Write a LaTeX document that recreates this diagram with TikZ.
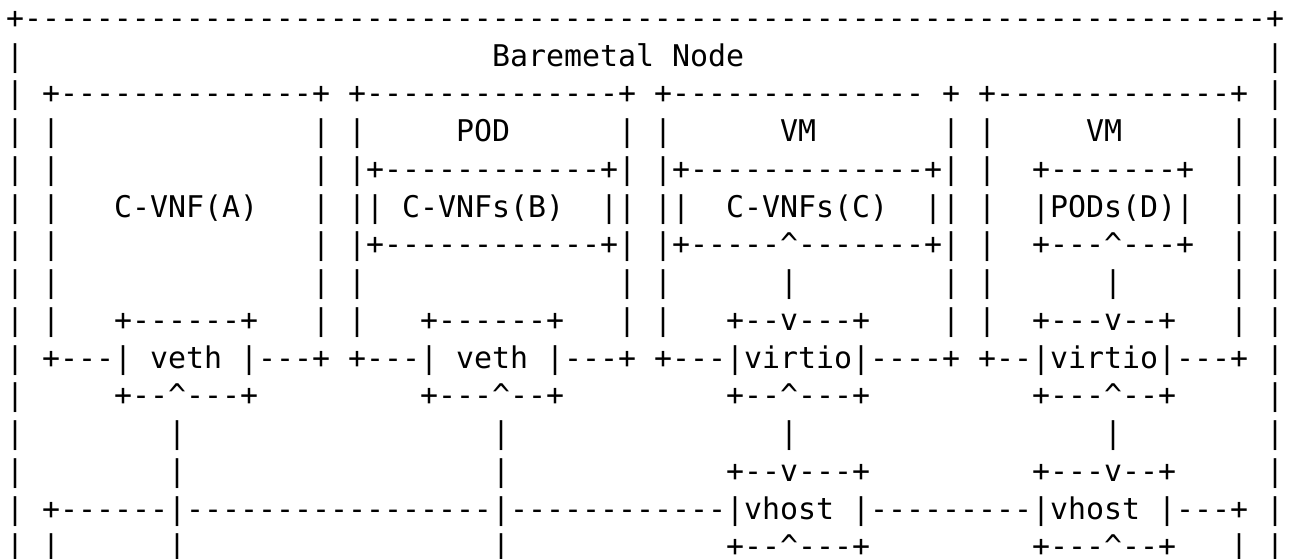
\documentclass[tikz,border=0pt]{standalone}
\usepackage{fontspec}
\setmonofont{DejaVu Sans Mono}
\ExplSyntaxOn
\cs_new:Npn \asciirep #1#2 { \prg_replicate:nn {#1} {#2} }
\ExplSyntaxOff
\newcommand\asciifont{\ttfamily\fontsize{29.9pt}{36pt}\selectfont}
\tikzset{txt/.style={anchor=base west, inner sep=0pt, outer sep=0pt, font=\asciifont, text=black}}
% segment: line, column, text
\newcommand\seg[3]{\node[txt] (s#1-#2) at ({6+18*#2},{530.5-37.75*(#1-1)}) {#3};}
% run of dashes: line, column, count
\newcommand\drun[3]{\seg{#1}{#2}{\asciirep{#3}{-}}}
\newcommand\up{\textasciicircum}
\begin{document}
\begin{tikzpicture}[x=1pt,y=1pt]
\fill[white] (0,0) rectangle (1290,559);
\useasboundingbox (0,0) rectangle (1290,559);
% line 1
\seg{1}{0}{+}\drun{1}{1}{69}\seg{1}{70}{+}
% line 2
\seg{2}{0}{|}\seg{2}{27}{Baremetal Node}\seg{2}{70}{|}
% line 3
\seg{3}{0}{|}\seg{3}{2}{+}\drun{3}{3}{14}\seg{3}{17}{+}
\seg{3}{19}{+}\drun{3}{20}{14}\seg{3}{34}{+}
\seg{3}{36}{+}\drun{3}{37}{14}\seg{3}{52}{+}
\seg{3}{54}{+}\drun{3}{55}{13}\seg{3}{68}{+}\seg{3}{70}{|}
% line 4
\seg{4}{0}{|}\seg{4}{2}{|}\seg{4}{17}{|}\seg{4}{19}{|}\seg{4}{25}{POD}
\seg{4}{34}{|}\seg{4}{36}{|}\seg{4}{43}{VM}\seg{4}{52}{|}\seg{4}{54}{|}
\seg{4}{60}{VM}\seg{4}{68}{|}\seg{4}{70}{|}
% line 5
\seg{5}{0}{|}\seg{5}{2}{|}\seg{5}{17}{|}\seg{5}{19}{|}
\seg{5}{20}{+}\drun{5}{21}{12}\seg{5}{33}{+}\seg{5}{34}{|}
\seg{5}{36}{|}\seg{5}{37}{+}\drun{5}{38}{13}\seg{5}{51}{+}\seg{5}{52}{|}
\seg{5}{54}{|}\seg{5}{57}{+}\drun{5}{58}{7}\seg{5}{65}{+}
\seg{5}{68}{|}\seg{5}{70}{|}
% line 6
\seg{6}{0}{|}\seg{6}{2}{|}\seg{6}{6}{C-VNF(A)}\seg{6}{17}{|}
\seg{6}{19}{|}\seg{6}{20}{|}\seg{6}{22}{C-VNFs(B)}\seg{6}{33}{|}\seg{6}{34}{|}
\seg{6}{36}{|}\seg{6}{37}{|}\seg{6}{40}{C-VNFs(C)}\seg{6}{51}{|}\seg{6}{52}{|}
\seg{6}{54}{|}\seg{6}{57}{|}\seg{6}{58}{PODs(D)}\seg{6}{65}{|}
\seg{6}{68}{|}\seg{6}{70}{|}
% line 7
\seg{7}{0}{|}\seg{7}{2}{|}\seg{7}{17}{|}\seg{7}{19}{|}
\seg{7}{20}{+}\drun{7}{21}{12}\seg{7}{33}{+}\seg{7}{34}{|}
\seg{7}{36}{|}\seg{7}{37}{+}\drun{7}{38}{5}\seg{7}{43}{\up}\drun{7}{44}{7}\seg{7}{51}{+}\seg{7}{52}{|}
\seg{7}{54}{|}\seg{7}{57}{+}\drun{7}{58}{3}\seg{7}{61}{\up}\drun{7}{62}{3}\seg{7}{65}{+}
\seg{7}{68}{|}\seg{7}{70}{|}
% line 8
\seg{8}{0}{|}\seg{8}{2}{|}\seg{8}{17}{|}\seg{8}{19}{|}\seg{8}{34}{|}\seg{8}{36}{|}
\seg{8}{43}{|}\seg{8}{52}{|}\seg{8}{54}{|}\seg{8}{61}{|}\seg{8}{68}{|}\seg{8}{70}{|}
% line 9
\seg{9}{0}{|}\seg{9}{2}{|}\seg{9}{6}{+}\drun{9}{7}{6}\seg{9}{13}{+}\seg{9}{17}{|}
\seg{9}{19}{|}\seg{9}{23}{+}\drun{9}{24}{6}\seg{9}{30}{+}\seg{9}{34}{|}
\seg{9}{36}{|}\seg{9}{40}{+}\drun{9}{41}{2}\seg{9}{43}{v}\drun{9}{44}{3}\seg{9}{47}{+}\seg{9}{52}{|}
\seg{9}{54}{|}\seg{9}{57}{+}\drun{9}{58}{3}\seg{9}{61}{v}\drun{9}{62}{2}\seg{9}{64}{+}
\seg{9}{68}{|}\seg{9}{70}{|}
% line 10
\seg{10}{0}{|}\seg{10}{2}{+}\drun{10}{3}{3}\seg{10}{6}{|}\seg{10}{8}{veth}\seg{10}{13}{|}\drun{10}{14}{3}\seg{10}{17}{+}
\seg{10}{19}{+}\drun{10}{20}{3}\seg{10}{23}{|}\seg{10}{25}{veth}\seg{10}{30}{|}\drun{10}{31}{3}\seg{10}{34}{+}
\seg{10}{36}{+}\drun{10}{37}{3}\seg{10}{40}{|}\seg{10}{41}{virtio}\seg{10}{47}{|}\drun{10}{48}{4}\seg{10}{52}{+}
\seg{10}{54}{+}\drun{10}{55}{2}\seg{10}{57}{|}\seg{10}{58}{virtio}\seg{10}{64}{|}\drun{10}{65}{3}\seg{10}{68}{+}
\seg{10}{70}{|}
% line 11
\seg{11}{0}{|}\seg{11}{6}{+}\drun{11}{7}{2}\seg{11}{9}{\up}\drun{11}{10}{3}\seg{11}{13}{+}
\seg{11}{23}{+}\drun{11}{24}{3}\seg{11}{27}{\up}\drun{11}{28}{2}\seg{11}{30}{+}
\seg{11}{40}{+}\drun{11}{41}{2}\seg{11}{43}{\up}\drun{11}{44}{3}\seg{11}{47}{+}
\seg{11}{57}{+}\drun{11}{58}{3}\seg{11}{61}{\up}\drun{11}{62}{2}\seg{11}{64}{+}
\seg{11}{70}{|}
% line 12
\seg{12}{0}{|}\seg{12}{9}{|}\seg{12}{27}{|}\seg{12}{43}{|}\seg{12}{61}{|}\seg{12}{70}{|}
% line 13
\seg{13}{0}{|}\seg{13}{9}{|}\seg{13}{27}{|}
\seg{13}{40}{+}\drun{13}{41}{2}\seg{13}{43}{v}\drun{13}{44}{3}\seg{13}{47}{+}
\seg{13}{57}{+}\drun{13}{58}{3}\seg{13}{61}{v}\drun{13}{62}{2}\seg{13}{64}{+}
\seg{13}{70}{|}
% line 14
\seg{14}{0}{|}\seg{14}{2}{+}\drun{14}{3}{6}\seg{14}{9}{|}\drun{14}{10}{17}\seg{14}{27}{|}
\drun{14}{28}{12}\seg{14}{40}{|}\seg{14}{41}{vhost}\seg{14}{47}{|}\drun{14}{48}{9}
\seg{14}{57}{|}\seg{14}{58}{vhost}\seg{14}{64}{|}\drun{14}{65}{3}\seg{14}{68}{+}\seg{14}{70}{|}
% line 15
\seg{15}{0}{|}\seg{15}{2}{|}\seg{15}{9}{|}\seg{15}{27}{|}
\seg{15}{40}{+}\drun{15}{41}{2}\seg{15}{43}{\up}\drun{15}{44}{3}\seg{15}{47}{+}
\seg{15}{57}{+}\drun{15}{58}{3}\seg{15}{61}{\up}\drun{15}{62}{2}\seg{15}{64}{+}
\seg{15}{68}{|}\seg{15}{70}{|}
\end{tikzpicture}
\end{document}
